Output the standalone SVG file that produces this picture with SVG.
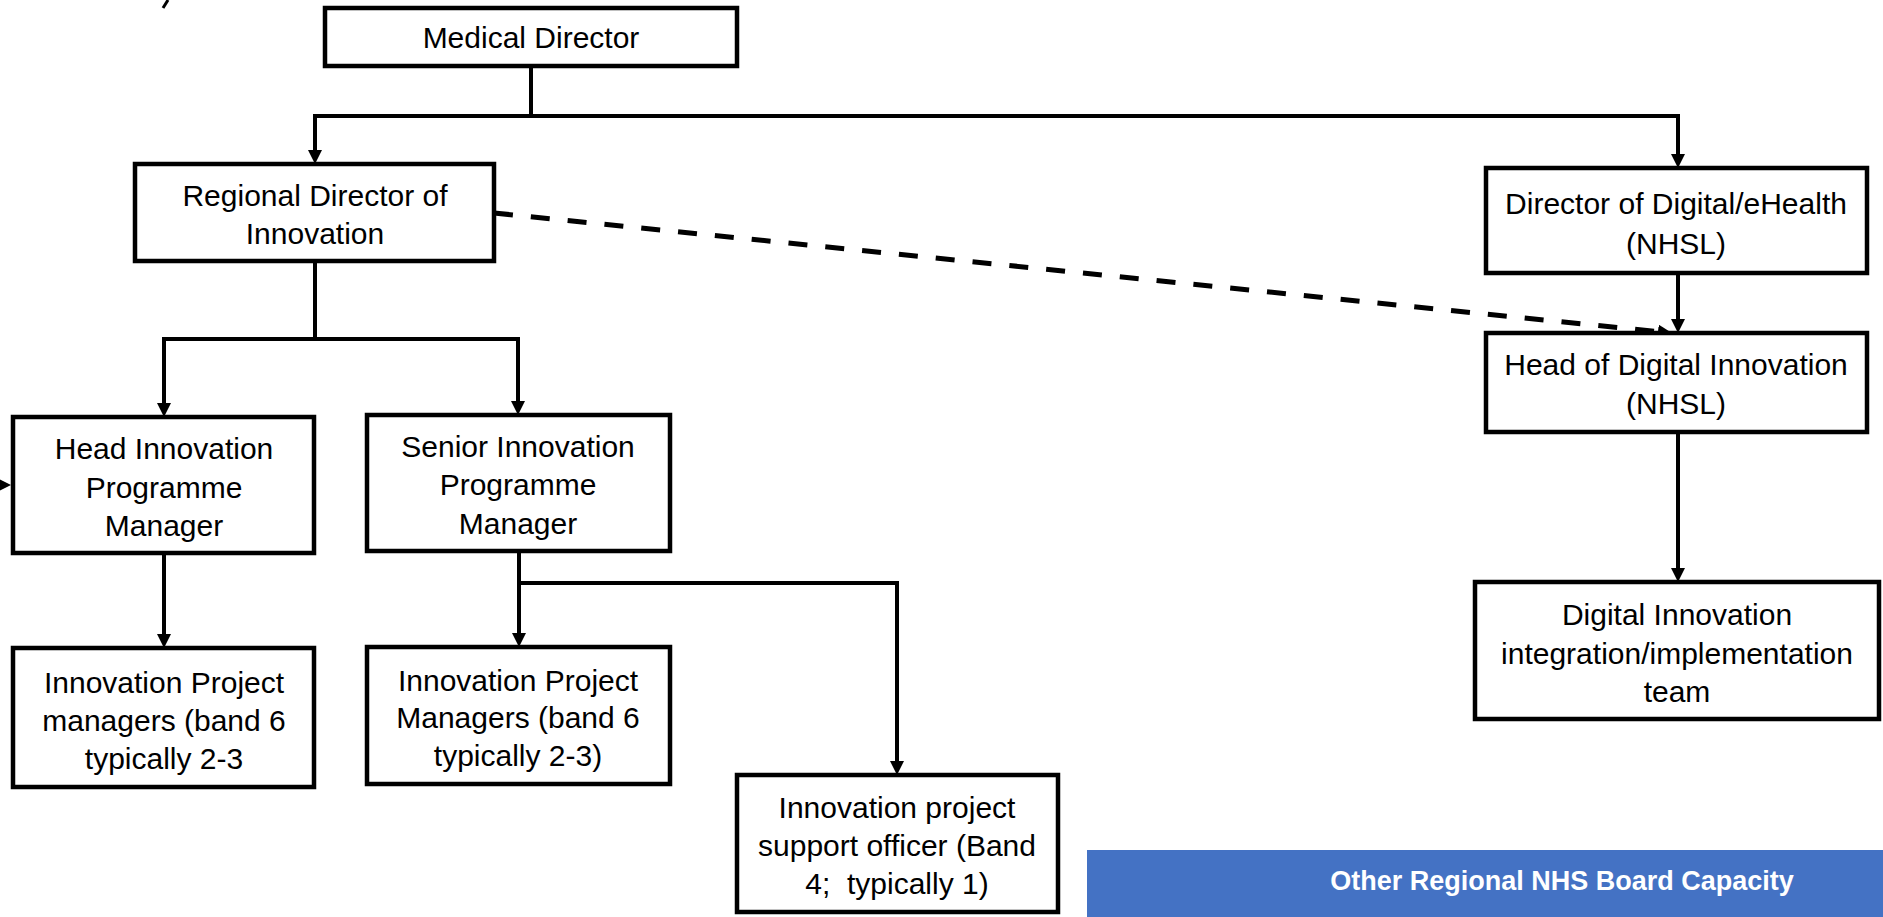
<svg xmlns="http://www.w3.org/2000/svg" width="1883" height="917" viewBox="0 0 1883 917">
  <style>
    .box { fill: #ffffff; stroke: #000000; stroke-width: 4.5; }
    .lbl { font-family: "Liberation Sans", Arial, sans-serif; font-size: 30px; fill: #000000; text-anchor: middle; white-space: pre; }
    .conn { fill: none; stroke: #000000; stroke-width: 4; }
    .dash { stroke-width: 5; stroke-dasharray: 19 18; }
    .band { fill: #4472C4; }
    .bandtxt { font-family: "Liberation Sans", Arial, sans-serif; font-size: 27px; font-weight: bold; fill: #ffffff; text-anchor: middle; }
  </style>
  <defs>
    <marker id="arrow" markerUnits="userSpaceOnUse" markerWidth="16" markerHeight="16" refX="4" refY="7" orient="auto">
      <path d="M0,0 L14,7 L0,14 z" fill="#000000"/>
    </marker>
  </defs>
  <rect width="1883" height="917" fill="#ffffff"/>

  <line x1="168" y1="0" x2="163" y2="8" stroke="#000000" stroke-width="3"/>

  <g id="connectors">
    <path class="conn" d="M531,66 V116 H315 V154" marker-end="url(#arrow)"/>
    <path class="conn" d="M531,116 H1678 V158" marker-end="url(#arrow)"/>
    <path class="conn" d="M1678,273 V323" marker-end="url(#arrow)"/>
    <path class="conn" d="M1678,432 V572" marker-end="url(#arrow)"/>
    <path class="conn" d="M315,261 V339 H164 V407" marker-end="url(#arrow)"/>
    <path class="conn" d="M315,339 H518 V405" marker-end="url(#arrow)"/>
    <path class="conn" d="M164,553 V638" marker-end="url(#arrow)"/>
    <path class="conn" d="M519,551 V637" marker-end="url(#arrow)"/>
    <path class="conn" d="M519,583 H897 V765" marker-end="url(#arrow)"/>
    <path class="conn dash" d="M494,213 L1662,332" marker-end="url(#arrow)"/>
    <path class="conn" d="M-20,485 H1" marker-end="url(#arrow)"/>
  </g>

  <g id="medical-director">
    <rect class="box" x="325" y="8" width="412" height="58"/>
    <text class="lbl" x="531" y="48">Medical Director</text>
  </g>
  <g id="regional-director">
    <rect class="box" x="135" y="164" width="359" height="97"/>
    <text class="lbl" x="315" y="206">Regional Director of</text>
    <text class="lbl" x="315" y="244">Innovation</text>
  </g>
  <g id="head-ipm">
    <rect class="box" x="13" y="417" width="301" height="136"/>
    <text class="lbl" x="164" y="459">Head Innovation</text>
    <text class="lbl" x="164" y="498">Programme</text>
    <text class="lbl" x="164" y="536">Manager</text>
  </g>
  <g id="senior-ipm">
    <rect class="box" x="367" y="415" width="303" height="136"/>
    <text class="lbl" x="518" y="457">Senior Innovation</text>
    <text class="lbl" x="518" y="495">Programme</text>
    <text class="lbl" x="518" y="534">Manager</text>
  </g>
  <g id="ipm-left">
    <rect class="box" x="13" y="648" width="301" height="139"/>
    <text class="lbl" x="164" y="693">Innovation Project</text>
    <text class="lbl" x="164" y="731">managers (band 6</text>
    <text class="lbl" x="164" y="769">typically 2-3</text>
  </g>
  <g id="ipm-right">
    <rect class="box" x="367" y="647" width="303" height="137"/>
    <text class="lbl" x="518" y="691">Innovation Project</text>
    <text class="lbl" x="518" y="728">Managers (band 6</text>
    <text class="lbl" x="518" y="766">typically 2-3)</text>
  </g>
  <g id="support-officer">
    <rect class="box" x="737" y="775" width="321" height="137"/>
    <text class="lbl" x="897" y="818">Innovation project</text>
    <text class="lbl" x="897" y="856">support officer (Band</text>
    <text class="lbl" x="897" y="894">4;  typically 1)</text>
  </g>
  <g id="director-digital">
    <rect class="box" x="1486" y="168" width="381" height="105"/>
    <text class="lbl" x="1676" y="214">Director of Digital/eHealth</text>
    <text class="lbl" x="1676" y="254">(NHSL)</text>
  </g>
  <g id="head-digital">
    <rect class="box" x="1486" y="333" width="381" height="99"/>
    <text class="lbl" x="1676" y="375">Head of Digital Innovation</text>
    <text class="lbl" x="1676" y="414">(NHSL)</text>
  </g>
  <g id="digital-team">
    <rect class="box" x="1475" y="582" width="404" height="137"/>
    <text class="lbl" x="1677" y="625">Digital Innovation</text>
    <text class="lbl" x="1677" y="664">integration/implementation</text>
    <text class="lbl" x="1677" y="702">team</text>
  </g>
  <g id="board-capacity">
    <rect class="band" x="1087" y="850" width="796" height="67"/>
    <text class="bandtxt" x="1562" y="890">Other Regional NHS Board Capacity</text>
  </g>
</svg>
